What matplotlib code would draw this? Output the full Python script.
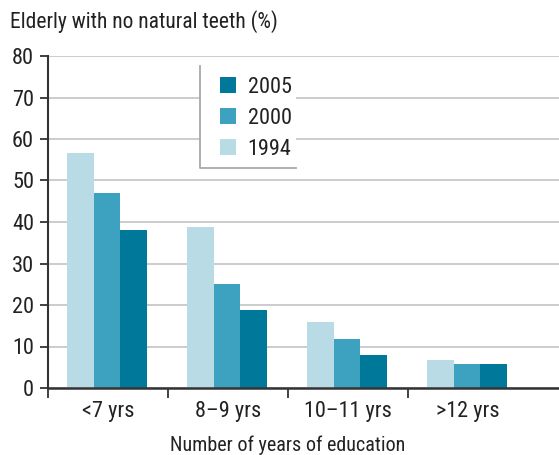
import matplotlib.pyplot as plt
import matplotlib.patches as mpatches
import numpy as np

plt.rcParams['font.family'] = ['Liberation Sans Narrow', 'DejaVu Sans Condensed',
                               'Roboto Condensed', 'Liberation Sans', 'DejaVu Sans']

groups = ["<7 yrs", "8\u20139 yrs", "10\u201311 yrs", ">12 yrs"]
years = ["1994", "2000", "2005"]
v1994 = [56.6, 38.9, 15.9, 6.8]
v2000 = [47.0, 25.0, 11.8, 5.8]
v2005 = [38.0, 18.9, 8.0, 5.8]
colors = {"1994": "#b9dbe5", "2000": "#3da2c0", "2005": "#00789a"}

fig = plt.figure(figsize=(5.59, 4.55), dpi=100)
ax = fig.add_axes([48 / 559, 67 / 455, 511 / 559, 332 / 455])

w = 0.222
x0 = np.arange(len(groups)) + 0.16
for i, (yr, vals) in enumerate(zip(years, [v1994, v2000, v2005])):
    ax.bar(x0 + i * w, vals, w, align="edge", color=colors[yr], label=yr, zorder=2)

xmax = 511 / 120
ax.set_xlim(0, xmax)
ax.set_ylim(0, 80)
ax.set_yticks(np.arange(0, 81, 10))
ax.set_xticks(np.arange(len(groups)))
ax.set_xticklabels([])
ax.set_xticks(np.arange(len(groups)) + 0.5, groups, minor=True)
ax.tick_params(axis="x", which="minor", length=0, pad=9, labelsize=16, colors="#222222")
ax.tick_params(axis="x", which="major", length=7, width=1.3, color="#333333")
ax.tick_params(axis="y", length=6, width=1.3, color="#333333", labelsize=16, labelcolor="#222222", pad=4)
ax.grid(axis="y", color="#c8c8c8", lw=1.3, zorder=0)
for s in ["top", "right"]:
    ax.spines[s].set_visible(False)
ax.spines["left"].set_color("#333333")
ax.spines["left"].set_linewidth(1.5)
ax.spines["bottom"].set_color("#333333")
ax.spines["bottom"].set_linewidth(1.8)
ax.set_xlabel("Number of years of education", fontsize=14.5, color="#222222", labelpad=10)
ax.xaxis.label.set_x(len(groups) / 2 / xmax)
fig.text(10 / 559, 1 - 22 / 455, "Elderly with no natural teeth (%)", fontsize=15.5,
         color="#222222", va="center", ha="left")

# legend box: white background, gray left and bottom edges
lx, ly, lw, lh = 0.297, 0.663, 0.188, 0.307
ax.add_patch(mpatches.Rectangle((lx, ly), lw, lh, transform=ax.transAxes,
                                facecolor="white", edgecolor="none", zorder=3))
ax.plot([lx, lx, lx + lw], [ly + lh, ly, ly], transform=ax.transAxes,
        color="#a8a8a8", lw=1.3, zorder=4, clip_on=False)
h, l = ax.get_legend_handles_labels()
leg = ax.legend(h[::-1], l[::-1], loc="upper left", bbox_to_anchor=(lx + 0.004, ly + lh + 0.02),
                frameon=False, fontsize=16, handlelength=0.72, handleheight=0.72,
                labelspacing=0.45, handletextpad=0.55, borderpad=0.3)
leg.set_zorder(5)
for t in leg.get_texts():
    t.set_color("#222222")

fig.savefig("out.png", dpi=100)
